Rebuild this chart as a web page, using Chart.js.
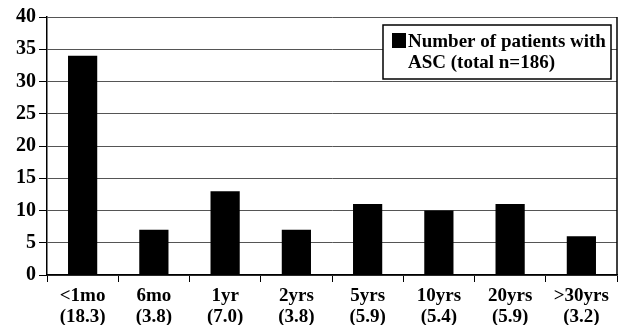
<!DOCTYPE html>
<html lang="en">
<head>
  <meta charset="UTF-8">
  <title>Patients with ASC</title>
  <script src="https://cdn.jsdelivr.net/npm/chart.js"></script>
  <style>
    html, body { margin: 0; padding: 0; background: #fff; }
    #wrap { width: 619px; height: 325px; }
  </style>
</head>
<body>
  <div id="wrap"><canvas id="ascChart"></canvas></div>

  <script>
    const ageGroups = ["<1mo", "6mo", "1yr", "2yrs", "5yrs", "10yrs", "20yrs", ">30yrs"];
    const rates = ["(18.3)", "(3.8)", "(7.0)", "(3.8)", "(5.9)", "(5.4)", "(5.9)", "(3.2)"];
    const patientCounts = [34, 7, 13, 7, 11, 10, 11, 6];
    const legendLines = ["Number of patients with", "ASC (total n=186)"];

    const serif = "'Liberation Serif', 'Times New Roman', serif";

    // legend box + right border line drawn by hand
    const boxLegend = {
      id: "boxLegend",
      afterDraw(chart) {
        const ctx = chart.ctx;
        const area = chart.chartArea;
        ctx.save();
        ctx.strokeStyle = "#000";
        ctx.lineWidth = 1.5;
        ctx.beginPath();
        ctx.moveTo(area.right, area.top);
        ctx.lineTo(area.right, area.bottom);
        ctx.stroke();

        const x = 383, y = 25, w = 228, h = 54;
        ctx.fillStyle = "#fff";
        ctx.fillRect(x, y, w, h);
        ctx.strokeRect(x, y, w, h);
        ctx.fillStyle = "#000";
        ctx.fillRect(x + 9, y + 8, 14, 15);
        ctx.font = "bold 19px " + serif;
        ctx.textBaseline = "middle";
        ctx.fillText(legendLines[0], x + 25, y + 17);
        ctx.fillText(legendLines[1], x + 25, y + 38);
        ctx.restore();
      }
    };

    new Chart(document.getElementById("ascChart"), {
      type: "bar",
      data: {
        labels: ageGroups.map((g, i) => [g, rates[i]]),
        datasets: [{
          label: legendLines.join(" "),
          data: patientCounts,
          backgroundColor: "#000",
          barPercentage: 0.41,
          categoryPercentage: 1.0
        }]
      },
      options: {
        responsive: true,
        maintainAspectRatio: false,
        animation: false,
        layout: { padding: { top: 17, right: 2, bottom: 0, left: 0 } },
        plugins: {
          legend: { display: false },
          tooltip: { enabled: false }
        },
        scales: {
          x: {
            offset: true,
            afterFit: s => { s.height = 50; },
            grid: {
              offset: true,
              drawOnChartArea: false,
              tickLength: 7,
              tickColor: "#000"
            },
            border: { color: "#000", width: 1.5 },
            ticks: {
              color: "#000",
              maxRotation: 0,
              padding: 4,
              font: { family: serif, size: 19, weight: "bold", lineHeight: 1.1 }
            }
          },
          y: {
            min: 0,
            max: 40,
            afterFit: s => { s.width = 47; },
            ticks: {
              stepSize: 5,
              color: "#000",
              padding: 3,
              font: { family: serif, size: 20, weight: "bold" }
            },
            grid: {
              color: "#555",
              tickColor: "#000",
              tickLength: 8,
              lineWidth: 1
            },
            border: { color: "#000", width: 1.5 }
          }
        }
      },
      plugins: [boxLegend]
    });
  </script>
</body>
</html>
